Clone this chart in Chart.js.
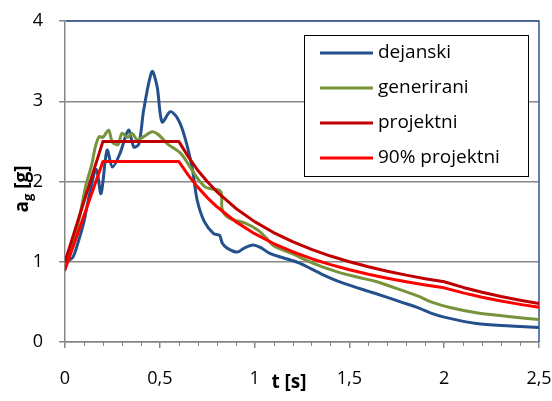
<!DOCTYPE html>
<html><head><meta charset="utf-8">
<script src="https://cdn.jsdelivr.net/npm/chart.js@4/dist/chart.umd.min.js"></script>
<style>html,body{margin:0;padding:0;background:#fff}#wrap{width:552px;height:401px;position:relative}</style>
</head><body><div id="wrap"><canvas id="c" width="552" height="401"></canvas></div>
<script>
// ---- data ----
const seriesNames = ['dejanski', 'generirani', 'projektni', '90% projektni'];
const xTickLabels = ['0', '0,5', '1', '1,5', '2', '2,5'];
const yTickLabels = ['0', '1', '2', '3', '4'];
const xTitle = 't [s]';
const yTitleMain = 'a';
const yTitleSub = 'g';
const yTitleRest = ' [g]';

const tDejanski = [0.00, 0.04, 0.07, 0.10, 0.13, 0.165, 0.19, 0.222, 0.25, 0.29, 0.335, 0.363, 0.39, 0.415, 0.459, 0.486, 0.512, 0.555, 0.59, 0.626, 0.67, 0.697, 0.735, 0.784, 0.815, 0.83, 0.855, 0.907, 0.945, 0.99, 1.03, 1.083, 1.15, 1.24, 1.35, 1.46, 1.63, 1.77, 1.87, 1.93, 2.00, 2.17, 2.35, 2.50];
const vDejanski = [1.00, 1.05, 1.25, 1.50, 1.85, 2.15, 1.85, 2.39, 2.18, 2.35, 2.64, 2.43, 2.47, 2.89, 3.37, 3.18, 2.74, 2.87, 2.80, 2.60, 2.18, 1.77, 1.50, 1.35, 1.33, 1.23, 1.17, 1.12, 1.17, 1.21, 1.18, 1.10, 1.05, 0.98, 0.85, 0.74, 0.61, 0.50, 0.42, 0.36, 0.31, 0.23, 0.20, 0.18];

const tGenerirani = [0.00, 0.05, 0.08, 0.11, 0.14, 0.16, 0.18, 0.20, 0.23, 0.25, 0.28, 0.30, 0.33, 0.355, 0.38, 0.415, 0.46, 0.495, 0.54, 0.61, 0.66, 0.705, 0.74, 0.77, 0.815, 0.826, 0.83, 0.87, 0.95, 1.02, 1.06, 1.10, 1.19, 1.30, 1.44, 1.54, 1.645, 1.77, 1.87, 1.93, 2.03, 2.17, 2.35, 2.50];
const vGenerirani = [1.00, 1.30, 1.60, 1.95, 2.20, 2.43, 2.56, 2.55, 2.64, 2.49, 2.46, 2.60, 2.55, 2.60, 2.52, 2.56, 2.62, 2.58, 2.47, 2.35, 2.18, 2.02, 1.93, 1.91, 1.89, 1.84, 1.64, 1.54, 1.48, 1.39, 1.30, 1.20, 1.11, 0.99, 0.87, 0.81, 0.75, 0.65, 0.565, 0.50, 0.43, 0.365, 0.315, 0.28];

const tProjektni = [0.00, 0.20, 0.60, 0.65, 0.70, 0.75, 0.80, 0.90, 1.00, 1.10, 1.20, 1.30, 1.40, 1.50, 1.60, 1.70, 1.80, 1.90, 2.00, 2.10, 2.20, 2.30, 2.40, 2.50];
const vProjektni = [1.00, 2.50, 2.50, 2.31, 2.14, 2.00, 1.875, 1.667, 1.50, 1.364, 1.25, 1.154, 1.071, 1.00, 0.938, 0.882, 0.833, 0.789, 0.75, 0.680, 0.620, 0.567, 0.521, 0.48];

const tProjektni90 = [0.00, 0.20, 0.60, 0.65, 0.70, 0.75, 0.80, 0.90, 1.00, 1.10, 1.20, 1.30, 1.40, 1.50, 1.60, 1.70, 1.80, 1.90, 2.00, 2.10, 2.20, 2.30, 2.40, 2.50];
const vProjektni90 = [0.90, 2.25, 2.25, 2.08, 1.93, 1.80, 1.688, 1.50, 1.35, 1.227, 1.125, 1.038, 0.964, 0.90, 0.844, 0.794, 0.75, 0.71, 0.675, 0.612, 0.558, 0.510, 0.469, 0.432];

// ---- styles ----
const COLORS = ['#24508C', '#77933C', '#C00000', '#FF0000'];
const GRID = '#868686';
const FONT = "'Open Sans', 'Liberation Sans', sans-serif";

function pts(ts, vs) { return ts.map((t, i) => ({x: t, y: vs[i]})); }

const bluePlotBorder = {
  id: 'bluePlotBorder',
  beforeDatasetsDraw(chart) {
    const a = chart.chartArea, ctx = chart.ctx;
    ctx.save();
    ctx.strokeStyle = '#2F5597';
    ctx.lineWidth = 1.5;
    ctx.beginPath();
    ctx.moveTo(a.left + 1, a.top);
    ctx.lineTo(a.right, a.top);
    ctx.lineTo(a.right, a.bottom);
    ctx.stroke();
    ctx.restore();
  }
};

const minorTicks = {
  id: 'minorTicks',
  afterDraw(chart) {
    const s = chart.scales.x, ctx = chart.ctx;
    ctx.save();
    ctx.strokeStyle = GRID;
    ctx.lineWidth = 1;
    for (let k = 1; k < 25; k++) {
      if (k % 5 === 0) continue;
      const px = Math.round(s.getPixelForValue(k / 10)) + 0.5;
      ctx.beginPath();
      ctx.moveTo(px, s.top);
      ctx.lineTo(px, s.top + 4);
      ctx.stroke();
    }
    ctx.restore();
  }
};

const customLegend = {
  id: 'customLegend',
  afterDraw(chart) {
    const ctx = chart.ctx;
    const bx = 304.5, by = 35.5, bw = 224, bh = 141;
    ctx.save();
    ctx.fillStyle = '#fff';
    ctx.fillRect(bx, by, bw, bh);
    ctx.strokeStyle = '#000';
    ctx.lineWidth = 1;
    ctx.strokeRect(bx, by, bw, bh);
    ctx.font = '19px ' + FONT;
    ctx.textBaseline = 'middle';
    ctx.fillStyle = '#000';
    chart.data.datasets.forEach((d, i) => {
      const y = 53 + i * 35;
      ctx.strokeStyle = d.borderColor;
      ctx.lineWidth = 3;
      ctx.beginPath();
      ctx.moveTo(320, y);
      ctx.lineTo(373, y);
      ctx.stroke();
      ctx.fillText(d.label, 378, y);
    });
    ctx.restore();
  }
};

const axisTitles = {
  id: 'axisTitles',
  afterDraw(chart) {
    const ctx = chart.ctx;
    ctx.save();
    ctx.fillStyle = '#000';
    ctx.textBaseline = 'middle';
    ctx.font = 'bold 19px ' + FONT;
    ctx.textAlign = 'center';
    ctx.fillText(xTitle, 289, 383);
    ctx.translate(23, 189);
    ctx.rotate(-Math.PI / 2);
    ctx.textAlign = 'left';
    const fMain = 'bold 19px ' + FONT, fSub = 'bold 13px ' + FONT;
    ctx.font = fMain; const w1 = ctx.measureText(yTitleMain).width;
    ctx.font = fSub; const w2 = ctx.measureText(yTitleSub).width;
    ctx.font = fMain; const w3 = ctx.measureText(yTitleRest).width;
    let x0 = -(w1 + w2 + w3) / 2;
    ctx.font = fMain; ctx.fillText(yTitleMain, x0, 0);
    ctx.font = fSub; ctx.fillText(yTitleSub, x0 + w1, 5);
    ctx.font = fMain; ctx.fillText(yTitleRest, x0 + w1 + w2, 0);
    ctx.restore();
  }
};

const lineDs = (label, ts, vs, color, order, smooth) => ({
  label, data: pts(ts, vs), borderColor: color, backgroundColor: color,
  borderWidth: 3, pointRadius: 0, showLine: true, fill: false, order,
  tension: smooth ? 0.3 : 0,
  borderJoinStyle: 'round', borderCapStyle: 'round'
});

new Chart(document.getElementById('c'), {
  type: 'scatter',
  data: {
    datasets: [
      lineDs(seriesNames[0], tDejanski, vDejanski, COLORS[0], 4, true),
      lineDs(seriesNames[1], tGenerirani, vGenerirani, COLORS[1], 3, true),
      lineDs(seriesNames[2], tProjektni, vProjektni, COLORS[2], 2, false),
      lineDs(seriesNames[3], tProjektni90, vProjektni90, COLORS[3], 1, false)
    ]
  },
  options: {
    responsive: false,
    animation: false,
    devicePixelRatio: 1,
    layout: {padding: {left: 0, right: 0, top: 21, bottom: 0}},
    plugins: {legend: {display: false}, tooltip: {enabled: false}},
    scales: {
      x: {
        type: 'linear', min: 0, max: 2.5,
        afterFit(s) { s.height = 59; s.paddingRight = 13; },
        afterBuildTicks(s) { s.ticks = xTickLabels.map((_, i) => ({value: i * 0.5})); },
        ticks: {
          callback: (v, i) => xTickLabels[i],
          font: {family: FONT, size: 18}, color: '#000', padding: 20,
          maxRotation: 0, autoSkip: false
        },
        grid: {drawOnChartArea: false, drawTicks: true, tickLength: 6, color: GRID, lineWidth: 1.5},
        border: {color: GRID, width: 1.5}
      },
      y: {
        type: 'linear', min: 0, max: 4,
        afterFit(s) { s.width = 65; s.paddingTop = 0; s.paddingBottom = 0; },
        afterBuildTicks(s) { s.ticks = yTickLabels.map((_, i) => ({value: i})); },
        ticks: {
          callback: (v, i) => yTickLabels[i],
          font: {family: FONT, size: 18}, color: '#000', padding: 16
        },
        grid: {drawTicks: true, tickLength: 6, color: GRID, lineWidth: 1.5},
        border: {color: GRID, width: 1.5}
      }
    }
  },
  plugins: [bluePlotBorder, minorTicks, customLegend, axisTitles]
});
</script>
</body></html>
